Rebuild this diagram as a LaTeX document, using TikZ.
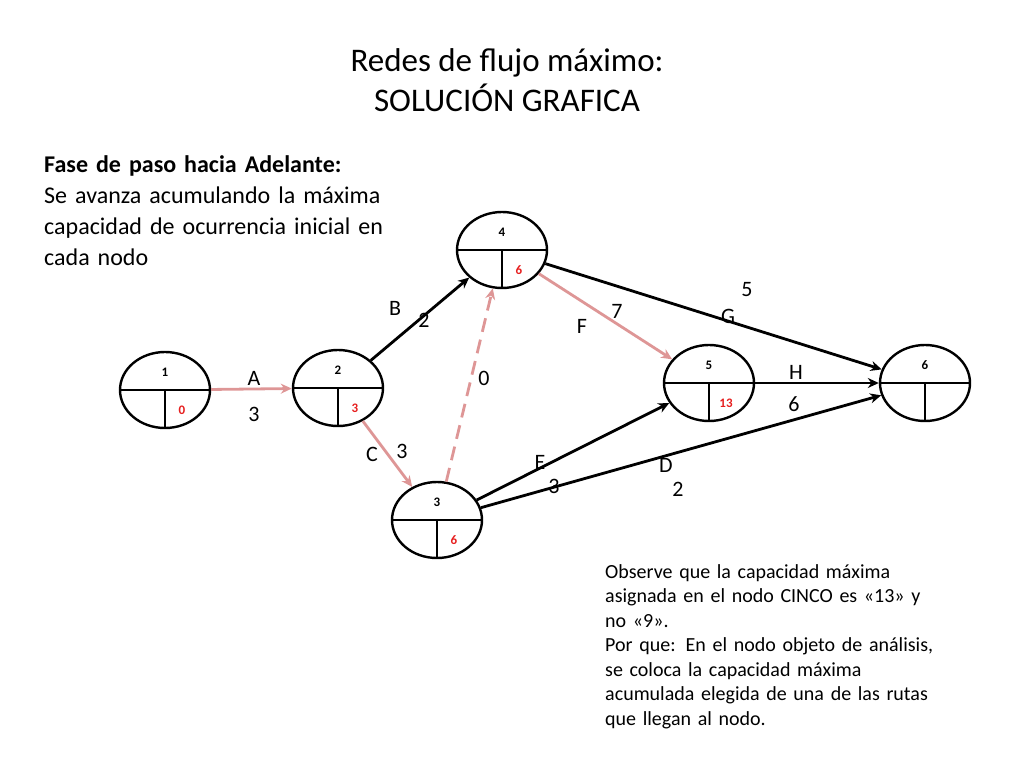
\documentclass[tikz,border=0pt]{standalone}
\usepackage{fontspec}
\setmainfont{Carlito}
\usetikzlibrary{shapes.geometric,arrows.meta}
\definecolor{pinkl}{RGB}{222,150,150}
\definecolor{redn}{RGB}{230,30,30}
\begin{document}
\begin{tikzpicture}[x=1pt,y=-1pt,
  nd/.style={ellipse,draw,line width=2.4pt,minimum width=90pt,minimum height=76pt,inner sep=0},
  blk/.style={line width=2.8pt,-{Stealth[length=11pt,width=10pt]}},
  pnk/.style={line width=2.8pt,draw=pinkl,-{Stealth[length=11pt,width=10pt]}},
  lb/.style={font=\fontsize{22}{22}\selectfont},
  num/.style={font=\bfseries\fontsize{13}{13}\selectfont},
  rnum/.style={font=\bfseries\fontsize{13}{13}\selectfont,text=redn}]
\useasboundingbox (0,0) rectangle (1024,768);
\node[font=\fontsize{33}{40}\selectfont,align=center] (title) at (507,80) {Redes de flujo máximo:\\SOLUCIÓN GRAFICA};
\node[anchor=north west,text width=358pt,inner sep=0,font=\fontsize{24}{31}\selectfont] (lt) at (44,155)
 {\hyphenpenalty=10000 \textbf{Fase de paso hacia Adelante:}\\ Se avanza acumulando la máxima capacidad de ocurrencia inicial en cada nodo};
\node[anchor=north west,text width=360pt,inner sep=0,font=\fontsize{20}{24.5}\selectfont] (rt) at (605,564)
 {\hyphenpenalty=10000 Observe que la capacidad máxima\linebreak asignada en el nodo CINCO es «13» y\linebreak no «9».\\ Por que: En el nodo objeto de análisis,\linebreak se coloca la capacidad máxima\linebreak acumulada elegida de una de las rutas\\ que llegan al nodo.};
\foreach \n/\x/\y/\v in {1/165/390/0,2/338/388/3,3/437/520/6,4/502/250/6,5/709/383/13,6/925/383/{}}{
  \node[nd] (n\n) at (\x,\y) {};
  \draw[line width=1.8pt] (n\n.west) -- (n\n.east);
  \draw[line width=1.8pt] (n\n.center) -- (n\n.south);
  \node[num] (t\n) at (\x,\y-18) {\n};
  \node[rnum] (v\n) at (\x+17,\y+20) {\v};
}
\draw[pnk] (n1) -- (n2);
\draw[blk] (n2) -- (n4);
\draw[pnk] (n2) -- (n3);
\draw[pnk,dashed,dash pattern=on 14pt off 8pt] (n3) -- (n4);
\draw[pnk] (n4) -- (n5);
\draw[blk] (n4) -- (n6);
\draw[blk] (n3) -- (n5);
\draw[blk] (n3) -- (n6);
\draw[blk] (n5) -- (n6);
\node[lb] (lA) at (254,378) {A}; \node[lb] (lA3) at (254,414) {3};
\node[lb] (lB) at (395,308) {B}; \node[lb] (lB2) at (424,320) {2};
\node[lb] (lC) at (372,454) {C}; \node[lb] (lC3) at (402,451) {3};
\node[lb] (l0) at (484,378) {0};
\node[lb] (lF) at (582,326) {F}; \node[lb] (lF7) at (617,311) {7};
\node[lb] (lG5) at (747,290) {5}; \node[lb] (lG) at (728,316) {G};
\node[lb] (lE) at (540,462) {E}; \node[lb] (lE3) at (554,486) {3};
\node[lb] (lD) at (666,465) {D}; \node[lb] (lD2) at (678,489) {2};
\node[lb] (lH) at (796,372) {H}; \node[lb] (lH6) at (794,404) {6};
\end{tikzpicture}
\end{document}
